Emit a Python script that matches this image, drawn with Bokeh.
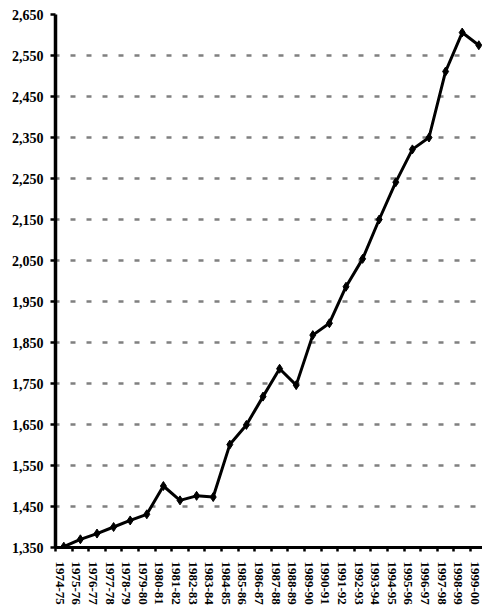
from bokeh.plotting import figure
from bokeh.models import Range1d, FixedTicker, ColumnDataSource
from bokeh.embed import file_html
from bokeh.resources import INLINE

years = ["1974-75", "1975-76", "1976-77", "1977-78", "1978-79", "1979-80",
         "1980-81", "1981-82", "1982-83", "1983-84", "1984-85", "1985-86",
         "1986-87", "1987-88", "1988-89", "1989-90", "1990-91", "1991-92",
         "1992-93", "1993-94", "1994-95", "1995-96", "1996-97", "1997-98",
         "1998-99", "1999-00"]
values = [1352, 1370, 1384, 1400, 1416, 1431, 1500, 1465, 1476, 1473,
          1601, 1649, 1718, 1786, 1746, 1868, 1897, 1986, 2054, 2150,
          2241, 2321, 2350, 2511, 2606, 2575]
y_ticks = list(range(1350, 2651, 100))

xs = [i + 0.5 for i in range(len(years))]
label_pos = [x - 0.24 for x in xs]
src = ColumnDataSource(dict(x=xs, y=values))

FONT = "Liberation Serif"

p = figure(width=482, height=607, output_backend="svg", toolbar_location=None,
           x_range=Range1d(0, 427 / 16.6), y_range=Range1d(1350, 2650),
           min_border_left=55, min_border_right=0, min_border_top=14,
           min_border_bottom=55)
p.outline_line_color = None
p.background_fill_color = "white"
p.border_fill_color = "white"

# grid
p.xgrid.grid_line_color = None
p.ygrid.ticker = FixedTicker(ticks=y_ticks)
p.ygrid.grid_line_color = "#808080"
p.ygrid.grid_line_width = 2.5
p.ygrid.grid_line_dash = "5 11"
p.ygrid.grid_line_dash_offset = 1

# y axis
p.yaxis.ticker = FixedTicker(ticks=y_ticks)
p.yaxis.major_label_overrides = {t: f"{t:,}" for t in y_ticks}
p.yaxis.axis_line_width = 3.5
p.yaxis.axis_line_color = "black"
p.yaxis.major_tick_line_width = 2.5
p.yaxis.major_tick_out = 5
p.yaxis.major_tick_in = 0
p.yaxis.minor_tick_line_color = None
p.yaxis.major_label_text_font = FONT
p.yaxis.major_label_text_font_style = "bold"
p.yaxis.major_label_text_font_size = "14px"
p.yaxis.major_label_text_color = "black"
p.yaxis.major_label_standoff = 7

# x axis: labels at category centres, tick marks at category boundaries
p.xaxis.ticker = FixedTicker(ticks=label_pos, minor_ticks=list(range(0, len(years) + 1)))
p.xaxis.major_label_overrides = {x: y for x, y in zip(label_pos, years)}
p.xaxis.major_label_orientation = "vertical"
p.xaxis.axis_line_width = 3
p.xaxis.axis_line_color = "black"
p.xaxis.major_tick_line_color = None
p.xaxis.major_tick_out = 0
p.xaxis.major_tick_in = 0
p.xaxis.minor_tick_line_color = "black"
p.xaxis.minor_tick_line_width = 2.5
p.xaxis.minor_tick_out = 4
p.xaxis.minor_tick_in = 1
p.xaxis.major_label_text_font = FONT
p.xaxis.major_label_text_font_style = "bold"
p.xaxis.major_label_text_font_size = "13px"
p.xaxis.major_label_text_color = "black"
p.xaxis.major_label_standoff = 10

p.line("x", "y", source=src, line_color="black", line_width=3)
p.scatter("x", "y", source=src, marker="diamond", size=9, color="black")

open("out.html", "w").write(file_html(p, INLINE))
